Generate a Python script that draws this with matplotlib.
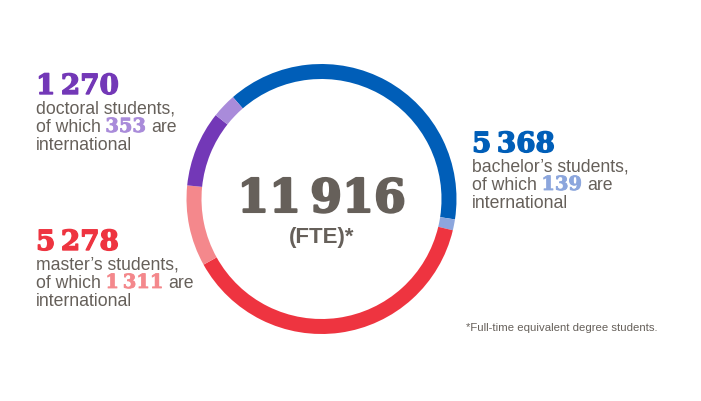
import matplotlib
matplotlib.use("Agg")
from matplotlib import pyplot as plt
from matplotlib import patheffects as pe

# ring arcs (degrees, clockwise from top-left)
ring_parts = ["bachelor", "bachelor intl", "master", "master intl", "doctoral", "doctoral intl"]
ring_arc_deg = [139.7, 4.7, 137.5, 34.9, 32.6, 10.6]
ring_colors = ["#005eb8", "#8ca6dd", "#ee3440", "#f4888c", "#7338b7", "#a98bda"]

total = "11\u2009916"
groups = ["doctoral", "master\u2019s", "bachelor\u2019s"]
group_totals = ["1\u2009270", "5\u2009278", "5\u2009368"]
group_intl = ["353", "1\u2009311", "139"]
main_col = ["#7338b7", "#ee3440", "#005eb8"]
intl_col = ["#a98bda", "#f4888c", "#8ca6dd"]

GREY = "#66605a"
W, H = 701, 401
SERIF = "DejaVu Serif"
SANS = "Liberation Sans"

fig = plt.figure(figsize=(W / 100, H / 100), dpi=100)
ax = fig.add_axes([0, 0, 1, 1])

cx, cy = 321.5, H - 199
ax.pie(ring_arc_deg, colors=ring_colors, startangle=131, counterclock=False,
       center=(cx, cy), radius=135, wedgeprops=dict(width=15, linewidth=0))
ax.set_xlim(0, W)
ax.set_ylim(0, H)
ax.set_aspect("auto")
ax.axis("off")

renderer = fig.canvas.get_renderer()


def Y(y):
    return H - y


def heavy(color, lw):
    # thicken the serif digits a little
    return [pe.withStroke(linewidth=lw, foreground=color)]


def line(x, y, parts):
    # parts: (text, kwargs); a gap of one space goes between parts
    for s, kw in parts:
        t = ax.text(x, Y(y), s, va="baseline", ha="left", **kw)
        bb = t.get_window_extent(renderer)
        x += bb.width + 4.5


body = dict(family=SANS, fontsize=12.7, color=GREY)

# text blocks: (x, baseline of the big number)
blocks = [(36, 94), (36, 250), (472, 152)]
for (x, yb), g, tot, intl, c1, c2 in zip(blocks, groups, group_totals, group_intl, main_col, intl_col):
    ax.text(x, Y(yb), tot, family=SERIF, fontweight="bold", fontsize=20,
            color=c1, va="baseline", ha="left", path_effects=heavy(c1, 1.0))
    line(x, yb + 19.5, [(g + " students,", body)])
    line(x, yb + 38, [("of which", body),
                      (intl, dict(family=SERIF, fontweight="bold", fontsize=14, color=c2,
                                  path_effects=heavy(c2, 0.6))),
                      ("are", body)])
    line(x, yb + 56.5, [("international", body)])

# centre
ax.text(cx, Y(212), total, family=SERIF, fontweight="bold", fontsize=33,
        color=GREY, va="baseline", ha="center", path_effects=heavy(GREY, 1.5))
ax.text(cx, Y(243), "(FTE)*", family=SANS, fontweight="bold", fontsize=16,
        color=GREY, va="baseline", ha="center")

ax.text(466, Y(331), "*Full-time equivalent degree students.", family=SANS,
        fontsize=8.2, color=GREY, va="baseline", ha="left")

fig.savefig("out.png", dpi=100)
